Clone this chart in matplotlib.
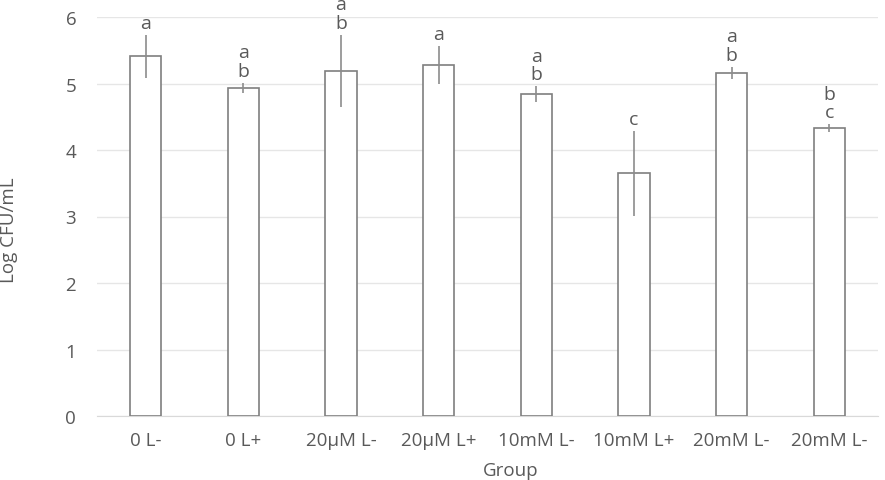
import matplotlib.pyplot as plt
import numpy as np

groups = ["0 L-", "0 L+", "20μM L-", "20μM L+", "10mM L-", "10mM L+", "20mM L-", "20mM L-"]
log_cfu = [5.41, 4.93, 5.19, 5.28, 4.84, 3.65, 5.16, 4.33]
err = [0.32, 0.08, 0.54, 0.28, 0.12, 0.64, 0.09, 0.06]
letters = ["a", "a\nb", "a\nb", "a", "a\nb", "c", "a\nb", "b\nc"]

text_col = "#595959"
plt.rcParams["font.family"] = ["Open Sans", "DejaVu Sans"]

W, H = 885, 481
fig = plt.figure(figsize=(W / 100, H / 100), dpi=100)
# axes placed in pixel terms so the picture is cropped like the original
ax = fig.add_axes([97 / W, (H - 417) / H, (878 - 97) / W, (417 - 18) / H])

x = np.arange(len(groups))
ax.bar(x, log_cfu, width=0.32, color="white", edgecolor="#7f7f7f", linewidth=1.2, zorder=3)
ax.errorbar(x, log_cfu, yerr=err, fmt="none", ecolor="#8c8c8c", elinewidth=1.2, capsize=0, zorder=4)

for xi, v, e, lab in zip(x, log_cfu, err, letters):
    ax.annotate(lab, (xi, v + e), xytext=(0, 2), textcoords="offset points",
                ha="center", va="bottom", fontsize=14, color=text_col,
                linespacing=1.05, annotation_clip=False)

ax.set_xlim(-0.5, len(groups) - 0.5)
ax.set_ylim(0, 6)
ax.set_yticks(range(7))
ax.set_xticks(x)
ax.set_xticklabels(groups)
ax.tick_params(axis="both", length=0, labelsize=13.5, labelcolor=text_col)
ax.tick_params(axis="x", pad=11)
ax.tick_params(axis="y", pad=15)
ax.yaxis.grid(True, color="#e6e6e6", linewidth=1.0, zorder=0)
for s in ["top", "right", "left"]:
    ax.spines[s].set_visible(False)
ax.spines["bottom"].set_color("#d9d9d9")

fig.text(9 / W, 1 - 230 / H, "Log CFU/mL", rotation=90, ha="center", va="center",
         fontsize=13.5, color=text_col)
fig.text(511 / W, 1 / H, "Group", ha="center", va="bottom",
         fontsize=13.5, color=text_col)

fig.savefig("out.png", dpi=100)
